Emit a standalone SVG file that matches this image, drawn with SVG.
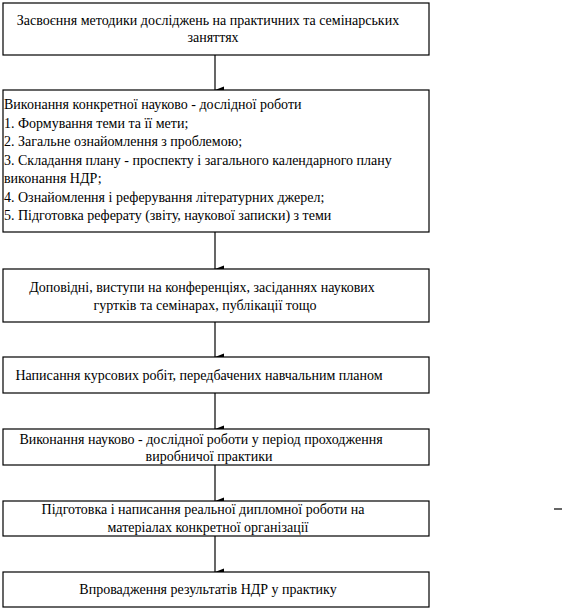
<svg xmlns="http://www.w3.org/2000/svg" width="573" height="609" viewBox="0 0 573 609">
<style>
.box{fill:#fff;stroke:#000;stroke-width:1.2}
.t{font-family:"Liberation Serif","Times New Roman",serif;font-size:14px;fill:#000}
.m{text-anchor:middle}
.c{stroke:#000;stroke-width:1.2;fill:none}
</style>
<defs>
<marker id="ah" markerWidth="8" markerHeight="9" refX="4" refY="9" orient="auto" markerUnits="userSpaceOnUse" viewBox="0 0 8 9">
<polygon points="0.5,0 7.5,0 4,9" fill="#000"/>
</marker>
</defs>
<rect width="573" height="609" fill="#fff"/>
<g id="connectors">
<line class="c" x1="215" y1="55" x2="215" y2="90" marker-end="url(#ah)"/>
<line class="c" x1="215" y1="232" x2="215" y2="269" marker-end="url(#ah)"/>
<line class="c" x1="215" y1="322" x2="215" y2="357" marker-end="url(#ah)"/>
<line class="c" x1="215" y1="393" x2="215" y2="429" marker-end="url(#ah)"/>
<line class="c" x1="215" y1="465" x2="215" y2="501" marker-end="url(#ah)"/>
<line class="c" x1="215" y1="536" x2="215" y2="572" marker-end="url(#ah)"/>
</g>
<g id="n1">
<rect class="box" x="3" y="3" width="426" height="52"/>
<text class="t m" x="208" y="25">Засвоєння методики досліджень на практичних та семінарських</text>
<text class="t m" x="213" y="42">заняттях</text>
</g>
<g id="n2">
<rect class="box" x="3" y="90" width="426" height="142"/>
<text class="t" x="4" y="109">Виконання конкретної науково - дослідної роботи</text>
<text class="t" x="4" y="127.5">1. Формування теми та її мети;</text>
<text class="t" x="4" y="146">2. Загальне ознайомлення з проблемою;</text>
<text class="t" x="4" y="164.5">3. Складання плану - проспекту і загального календарного плану</text>
<text class="t" x="4" y="183">виконання НДР;</text>
<text class="t" x="4" y="201.5">4. Ознайомлення і реферування літературних джерел;</text>
<text class="t" x="4" y="220">5. Підготовка реферату (звіту, наукової записки) з теми</text>
</g>
<g id="n3">
<rect class="box" x="3" y="269" width="426" height="53"/>
<text class="t m" x="202" y="292">Доповідні, виступи на конференціях, засіданнях наукових</text>
<text class="t m" x="205" y="310">гуртків та семінарах, публікації тощо</text>
</g>
<g id="n4">
<rect class="box" x="3" y="357" width="426" height="36"/>
<text class="t m" x="199" y="380">Написання курсових робіт, передбачених навчальним планом</text>
</g>
<g id="n5">
<rect class="box" x="3" y="429" width="426" height="36"/>
<text class="t m" x="201" y="444">Виконання науково - дослідної роботи у період проходження</text>
<text class="t m" x="209" y="461">виробничої практики</text>
</g>
<g id="n6">
<rect class="box" x="3" y="501" width="426" height="35"/>
<text class="t m" x="203" y="514">Підготовка і написання реальної дипломної роботи на</text>
<text class="t m" x="208" y="532">матеріалах конкретної організації</text>
</g>
<g id="n7">
<rect class="box" x="3" y="572" width="426" height="35"/>
<text class="t m" x="208" y="594">Впровадження результатів НДР у практику</text>
</g>
<line x1="554" y1="509" x2="562" y2="509" stroke="#000" stroke-width="1.2"/>
</svg>
